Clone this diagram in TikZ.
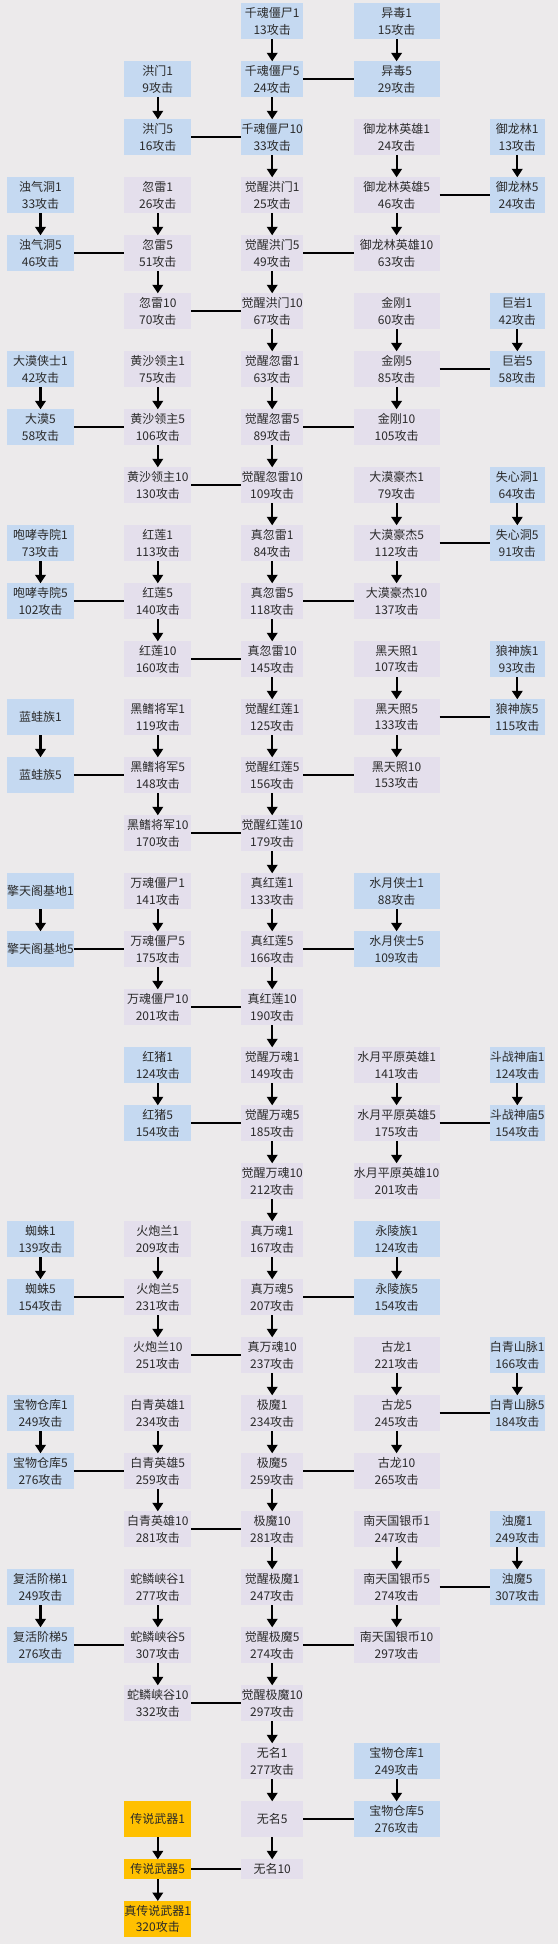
\documentclass[tikz,border=0pt]{standalone}
\usepackage{fontspec}
\setmainfont{Noto Sans CJK SC}
\usetikzlibrary{arrows.meta}
\definecolor{bgc}{HTML}{ECEAEB}
\definecolor{bluec}{HTML}{C5D9F1}
\definecolor{lavc}{HTML}{E4DFEC}
\definecolor{goldc}{HTML}{FFC000}
\definecolor{txtc}{HTML}{2A2A2A}
\tikzset{
  box/.style={minimum height=35.7pt,inner sep=0pt,outer sep=0pt,align=center,
    text=txtc,font=\fontsize{12}{16.7}\selectfont},
  shortbox/.style={box,minimum height=19.7pt},
  bl/.style={fill=bluec},
  lv/.style={fill=lavc},
  gd/.style={fill=goldc},
  wA/.style={minimum width=66.7pt},
  wB/.style={minimum width=67.3pt},
  wC/.style={minimum width=61.6pt},
  wD/.style={minimum width=85.9pt},
  wE/.style={minimum width=54.9pt},
  arr/.style={line width=2.2pt,-{Triangle[width=10.5pt,length=8.5pt]}},
  link/.style={line width=1.4pt},
}
\begin{document}
\begin{tikzpicture}[x=1pt,y=-1pt]
\fill[bgc] (0,0) rectangle (558,1944);
\useasboundingbox (0,0) rectangle (558,1944);
% row 1
\node[box,bl,wC] (c1) at (272.2,21.15) {千魂僵尸1\\13攻击};
\node[box,bl,wD] (d1) at (396.6,21.15) {异毒1\\15攻击};
% row 2
\node[box,bl,wB] (b2) at (157.8,79.15) {洪门1\\9攻击};
\node[box,bl,wC] (c2) at (272.2,79.15) {千魂僵尸5\\24攻击};
\node[box,bl,wD] (d2) at (396.6,79.15) {异毒5\\29攻击};
% row 3
\node[box,bl,wB] (b3) at (157.8,137.15) {洪门5\\16攻击};
\node[box,bl,wC] (c3) at (272.2,137.15) {千魂僵尸10\\33攻击};
\node[box,lv,wD] (d3) at (396.6,137.15) {御龙林英雄1\\24攻击};
\node[box,bl,wE] (e3) at (517.3,137.15) {御龙林1\\13攻击};
% row 4
\node[box,bl,wA] (a4) at (40.5,195.15) {浊气洞1\\33攻击};
\node[box,lv,wB] (b4) at (157.8,195.15) {忽雷1\\26攻击};
\node[box,lv,wC] (c4) at (272.2,195.15) {觉醒洪门1\\25攻击};
\node[box,lv,wD] (d4) at (396.6,195.15) {御龙林英雄5\\46攻击};
\node[box,bl,wE] (e4) at (517.3,195.15) {御龙林5\\24攻击};
% row 5
\node[box,bl,wA] (a5) at (40.5,253.15) {浊气洞5\\46攻击};
\node[box,lv,wB] (b5) at (157.8,253.15) {忽雷5\\51攻击};
\node[box,lv,wC] (c5) at (272.2,253.15) {觉醒洪门5\\49攻击};
\node[box,lv,wD] (d5) at (396.6,253.15) {御龙林英雄10\\63攻击};
% row 6
\node[box,lv,wB] (b6) at (157.8,311.15) {忽雷10\\70攻击};
\node[box,lv,wC] (c6) at (272.2,311.15) {觉醒洪门10\\67攻击};
\node[box,lv,wD] (d6) at (396.6,311.15) {金刚1\\60攻击};
\node[box,bl,wE] (e6) at (517.3,311.15) {巨岩1\\42攻击};
% row 7
\node[box,bl,wA] (a7) at (40.5,369.15) {大漠侠士1\\42攻击};
\node[box,lv,wB] (b7) at (157.8,369.15) {黄沙领主1\\75攻击};
\node[box,lv,wC] (c7) at (272.2,369.15) {觉醒忽雷1\\63攻击};
\node[box,lv,wD] (d7) at (396.6,369.15) {金刚5\\85攻击};
\node[box,bl,wE] (e7) at (517.3,369.15) {巨岩5\\58攻击};
% row 8
\node[box,bl,wA] (a8) at (40.5,427.15) {大漠5\\58攻击};
\node[box,lv,wB] (b8) at (157.8,427.15) {黄沙领主5\\106攻击};
\node[box,lv,wC] (c8) at (272.2,427.15) {觉醒忽雷5\\89攻击};
\node[box,lv,wD] (d8) at (396.6,427.15) {金刚10\\105攻击};
% row 9
\node[box,lv,wB] (b9) at (157.8,485.15) {黄沙领主10\\130攻击};
\node[box,lv,wC] (c9) at (272.2,485.15) {觉醒忽雷10\\109攻击};
\node[box,lv,wD] (d9) at (396.6,485.15) {大漠豪杰1\\79攻击};
\node[box,bl,wE] (e9) at (517.3,485.15) {失心洞1\\64攻击};
% row 10
\node[box,bl,wA] (a10) at (40.5,543.15) {咆哮寺院1\\73攻击};
\node[box,lv,wB] (b10) at (157.8,543.15) {红莲1\\113攻击};
\node[box,lv,wC] (c10) at (272.2,543.15) {真忽雷1\\84攻击};
\node[box,lv,wD] (d10) at (396.6,543.15) {大漠豪杰5\\112攻击};
\node[box,bl,wE] (e10) at (517.3,543.15) {失心洞5\\91攻击};
% row 11
\node[box,bl,wA] (a11) at (40.5,601.15) {咆哮寺院5\\102攻击};
\node[box,lv,wB] (b11) at (157.8,601.15) {红莲5\\140攻击};
\node[box,lv,wC] (c11) at (272.2,601.15) {真忽雷5\\118攻击};
\node[box,lv,wD] (d11) at (396.6,601.15) {大漠豪杰10\\137攻击};
% row 12
\node[box,lv,wB] (b12) at (157.8,659.15) {红莲10\\160攻击};
\node[box,lv,wC] (c12) at (272.2,659.15) {真忽雷10\\145攻击};
\node[box,lv,wD] (d12) at (396.6,659.15) {黑天照1\\107攻击};
\node[box,bl,wE] (e12) at (517.3,659.15) {狼神族1\\93攻击};
% row 13
\node[box,bl,wA] (a13) at (40.5,717.15) {蓝蛙族1};
\node[box,lv,wB] (b13) at (157.8,717.15) {黑鳍将军1\\119攻击};
\node[box,lv,wC] (c13) at (272.2,717.15) {觉醒红莲1\\125攻击};
\node[box,lv,wD] (d13) at (396.6,717.15) {黑天照5\\133攻击};
\node[box,bl,wE] (e13) at (517.3,717.15) {狼神族5\\115攻击};
% row 14
\node[box,bl,wA] (a14) at (40.5,775.15) {蓝蛙族5};
\node[box,lv,wB] (b14) at (157.8,775.15) {黑鳍将军5\\148攻击};
\node[box,lv,wC] (c14) at (272.2,775.15) {觉醒红莲5\\156攻击};
\node[box,lv,wD] (d14) at (396.6,775.15) {黑天照10\\153攻击};
% row 15
\node[box,lv,wB] (b15) at (157.8,833.15) {黑鳍将军10\\170攻击};
\node[box,lv,wC] (c15) at (272.2,833.15) {觉醒红莲10\\179攻击};
% row 16
\node[box,bl,wA] (a16) at (40.5,891.15) {擎天阁基地1};
\node[box,lv,wB] (b16) at (157.8,891.15) {万魂僵尸1\\141攻击};
\node[box,lv,wC] (c16) at (272.2,891.15) {真红莲1\\133攻击};
\node[box,bl,wD] (d16) at (396.6,891.15) {水月侠士1\\88攻击};
% row 17
\node[box,bl,wA] (a17) at (40.5,949.15) {擎天阁基地5};
\node[box,lv,wB] (b17) at (157.8,949.15) {万魂僵尸5\\175攻击};
\node[box,lv,wC] (c17) at (272.2,949.15) {真红莲5\\166攻击};
\node[box,bl,wD] (d17) at (396.6,949.15) {水月侠士5\\109攻击};
% row 18
\node[box,lv,wB] (b18) at (157.8,1007.15) {万魂僵尸10\\201攻击};
\node[box,lv,wC] (c18) at (272.2,1007.15) {真红莲10\\190攻击};
% row 19
\node[box,bl,wB] (b19) at (157.8,1065.15) {红猪1\\124攻击};
\node[box,lv,wC] (c19) at (272.2,1065.15) {觉醒万魂1\\149攻击};
\node[box,lv,wD] (d19) at (396.6,1065.15) {水月平原英雄1\\141攻击};
\node[box,bl,wE] (e19) at (517.3,1065.15) {斗战神庙1\\124攻击};
% row 20
\node[box,bl,wB] (b20) at (157.8,1123.15) {红猪5\\154攻击};
\node[box,lv,wC] (c20) at (272.2,1123.15) {觉醒万魂5\\185攻击};
\node[box,lv,wD] (d20) at (396.6,1123.15) {水月平原英雄5\\175攻击};
\node[box,bl,wE] (e20) at (517.3,1123.15) {斗战神庙5\\154攻击};
% row 21
\node[box,lv,wC] (c21) at (272.2,1181.15) {觉醒万魂10\\212攻击};
\node[box,lv,wD] (d21) at (396.6,1181.15) {水月平原英雄10\\201攻击};
% row 22
\node[box,bl,wA] (a22) at (40.5,1239.15) {蜘蛛1\\139攻击};
\node[box,lv,wB] (b22) at (157.8,1239.15) {火炮兰1\\209攻击};
\node[box,lv,wC] (c22) at (272.2,1239.15) {真万魂1\\167攻击};
\node[box,bl,wD] (d22) at (396.6,1239.15) {永陵族1\\124攻击};
% row 23
\node[box,bl,wA] (a23) at (40.5,1297.15) {蜘蛛5\\154攻击};
\node[box,lv,wB] (b23) at (157.8,1297.15) {火炮兰5\\231攻击};
\node[box,lv,wC] (c23) at (272.2,1297.15) {真万魂5\\207攻击};
\node[box,bl,wD] (d23) at (396.6,1297.15) {永陵族5\\154攻击};
% row 24
\node[box,lv,wB] (b24) at (157.8,1355.15) {火炮兰10\\251攻击};
\node[box,lv,wC] (c24) at (272.2,1355.15) {真万魂10\\237攻击};
\node[box,lv,wD] (d24) at (396.6,1355.15) {古龙1\\221攻击};
\node[box,bl,wE] (e24) at (517.3,1355.15) {白青山脉1\\166攻击};
% row 25
\node[box,bl,wA] (a25) at (40.5,1413.15) {宝物仓库1\\249攻击};
\node[box,lv,wB] (b25) at (157.8,1413.15) {白青英雄1\\234攻击};
\node[box,lv,wC] (c25) at (272.2,1413.15) {极魔1\\234攻击};
\node[box,lv,wD] (d25) at (396.6,1413.15) {古龙5\\245攻击};
\node[box,bl,wE] (e25) at (517.3,1413.15) {白青山脉5\\184攻击};
% row 26
\node[box,bl,wA] (a26) at (40.5,1471.15) {宝物仓库5\\276攻击};
\node[box,lv,wB] (b26) at (157.8,1471.15) {白青英雄5\\259攻击};
\node[box,lv,wC] (c26) at (272.2,1471.15) {极魔5\\259攻击};
\node[box,lv,wD] (d26) at (396.6,1471.15) {古龙10\\265攻击};
% row 27
\node[box,lv,wB] (b27) at (157.8,1529.15) {白青英雄10\\281攻击};
\node[box,lv,wC] (c27) at (272.2,1529.15) {极魔10\\281攻击};
\node[box,lv,wD] (d27) at (396.6,1529.15) {南天国银币1\\247攻击};
\node[box,bl,wE] (e27) at (517.3,1529.15) {浊魔1\\249攻击};
% row 28
\node[box,bl,wA] (a28) at (40.5,1587.15) {复活阶梯1\\249攻击};
\node[box,lv,wB] (b28) at (157.8,1587.15) {蛇鳞峡谷1\\277攻击};
\node[box,lv,wC] (c28) at (272.2,1587.15) {觉醒极魔1\\247攻击};
\node[box,lv,wD] (d28) at (396.6,1587.15) {南天国银币5\\274攻击};
\node[box,bl,wE] (e28) at (517.3,1587.15) {浊魔5\\307攻击};
% row 29
\node[box,bl,wA] (a29) at (40.5,1645.15) {复活阶梯5\\276攻击};
\node[box,lv,wB] (b29) at (157.8,1645.15) {蛇鳞峡谷5\\307攻击};
\node[box,lv,wC] (c29) at (272.2,1645.15) {觉醒极魔5\\274攻击};
\node[box,lv,wD] (d29) at (396.6,1645.15) {南天国银币10\\297攻击};
% row 30
\node[box,lv,wB] (b30) at (157.8,1703.15) {蛇鳞峡谷10\\332攻击};
\node[box,lv,wC] (c30) at (272.2,1703.15) {觉醒极魔10\\297攻击};
% row 31
\node[box,lv,wC] (c31) at (272.2,1761.15) {无名1\\277攻击};
\node[box,bl,wD] (d31) at (396.6,1761.15) {宝物仓库1\\249攻击};
% row 32
\node[box,gd,wB] (b32) at (157.8,1819.15) {传说武器1};
\node[box,lv,wC] (c32) at (272.2,1819.15) {无名5};
\node[box,bl,wD] (d32) at (396.6,1819.15) {宝物仓库5\\276攻击};
% row 33
\node[shortbox,gd,wB] (b33) at (157.8,1869.15) {传说武器5};
\node[shortbox,lv,wC] (c33) at (272.2,1869.15) {无名10};
% row 34
\node[box,gd,wB] (b34) at (157.8,1918.85) {真传说武器1\\320攻击};

% vertical arrows
\foreach \s/\t in {c1/c2,c2/c3,c3/c4,c4/c5,c5/c6,c6/c7,c7/c8,c8/c9,c9/c10,c10/c11,
  c11/c12,c12/c13,c13/c14,c14/c15,c15/c16,c16/c17,c17/c18,c18/c19,c19/c20,c20/c21,
  c21/c22,c22/c23,c23/c24,c24/c25,c25/c26,c26/c27,c27/c28,c28/c29,c29/c30,c30/c31,
  c31/c32,c32/c33,
  d1/d2,d3/d4,d4/d5,d6/d7,d7/d8,d9/d10,d10/d11,d12/d13,d13/d14,d16/d17,d19/d20,
  d20/d21,d22/d23,d24/d25,d25/d26,d27/d28,d28/d29,d31/d32,
  e3/e4,e6/e7,e9/e10,e12/e13,e19/e20,e24/e25,e27/e28,
  b2/b3,b4/b5,b5/b6,b7/b8,b8/b9,b10/b11,b11/b12,b13/b14,b14/b15,b16/b17,b17/b18,
  b19/b20,b22/b23,b23/b24,b25/b26,b26/b27,b28/b29,b29/b30,b32/b33,b33/b34,
  a4/a5,a7/a8,a10/a11,a13/a14,a16/a17,a22/a23,a25/a26,a28/a29}
  \draw[arr] (\s) -- (\t);

% horizontal links
\foreach \s/\t in {c2/d2,b3/c3,d4/e4,a5/b5,c5/d5,b6/c6,d7/e7,a8/b8,c8/d8,b9/c9,
  d10/e10,a11/b11,c11/d11,b12/c12,d13/e13,a14/b14,c14/d14,b15/c15,a17/b17,c17/d17,
  b18/c18,b20/c20,d20/e20,a23/b23,c23/d23,b24/c24,d25/e25,a26/b26,c26/d26,b27/c27,
  d28/e28,a29/b29,c29/d29,b30/c30,c32/d32,b33/c33}
  \draw[link] (\s) -- (\t);
\end{tikzpicture}
\end{document}
